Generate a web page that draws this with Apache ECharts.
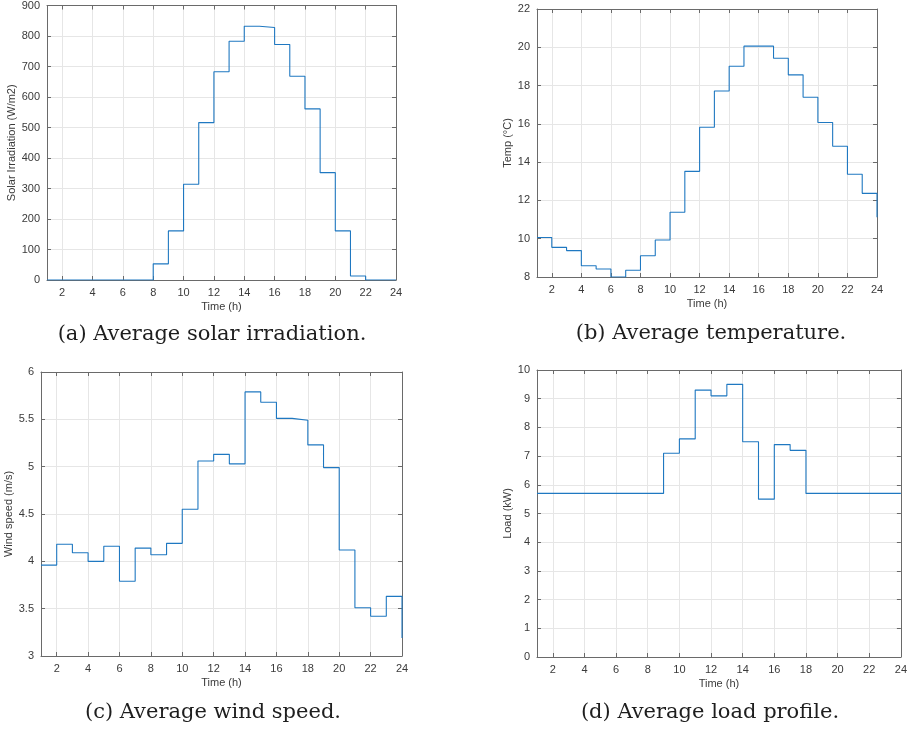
<!DOCTYPE html>
<html>
<head>
<meta charset="utf-8">
<title>Daily averages</title>
<script src="https://cdn.jsdelivr.net/npm/echarts@6/dist/echarts.min.js"></script>
<style>
  html, body { margin: 0; padding: 0; background: #ffffff; }
  #chart { width: 910px; height: 729px; }
</style>
</head>
<body>
<div id="chart"></div>
<script>
// Hour of day (1..24)
const hours = ['1','2','3','4','5','6','7','8','9','10','11','12',
               '13','14','15','16','17','18','19','20','21','22','23','24'];

// Average solar irradiation (W/m2)
const solarIrradiation = [0, 0, 0, 0, 0, 0, 0, 53, 161, 314, 516, 683,
                          783, 832, 828, 772, 668, 561, 352, 161, 13, 0, 0, 0];

// Average temperature (°C)
const temperature = [10.06, 9.55, 9.38, 8.59, 8.42, 8.0, 8.35, 9.11, 9.93, 11.38, 13.52, 15.82,
                     17.72, 19.01, 20.06, 20.06, 19.43, 18.56, 17.39, 16.07, 14.83, 13.37, 12.37, 11.12];

// Average wind speed (m/s)
const windSpeed = [3.96, 4.18, 4.09, 4.00, 4.16, 3.79, 4.14, 4.07, 4.19, 4.55, 5.06, 5.13,
                   5.03, 5.79, 5.68, 5.51, 5.49, 5.23, 4.99, 4.12, 3.51, 3.42, 3.63, 3.19];

// Average load profile (kW)
const load = [5.7, 5.7, 5.7, 5.7, 5.7, 5.7, 5.7, 5.7, 7.1, 7.6, 9.3, 9.1,
              9.5, 7.5, 5.5, 7.4, 7.2, 5.7, 5.7, 5.7, 5.7, 5.7, 5.7, 5.7];

// Hours that carry a tick label on the time axis
const xTickLabels = ['2','4','6','8','10','12','14','16','18','20','22','24'];

const captions = [
  '(a) Average solar irradiation.',
  '(b) Average temperature.',
  '(c) Average wind speed.',
  '(d) Average load profile.'
];

const panels = [
  { values: solarIrradiation, yName: 'Solar Irradiation (W/m2)', yMin: 0, yMax: 900, yStep: 100,
    grid: { left: 47, top: 5, width: 349, height: 275 }, yGap: 27, caption: { x: 212, y: 335 } },
  { values: temperature, yName: 'Temp (°C)', yMin: 8, yMax: 22, yStep: 2,
    grid: { left: 537, top: 9, width: 340, height: 268 }, yGap: 20, caption: { x: 711, y: 334 } },
  { values: windSpeed, yName: 'Wind speed (m/s)', yMin: 3, yMax: 6, yStep: 0.5,
    grid: { left: 41, top: 372, width: 361, height: 284 }, yGap: 25, caption: { x: 213, y: 713 } },
  { values: load, yName: 'Load (kW)', yMin: 0, yMax: 10, yStep: 1,
    grid: { left: 537, top: 370, width: 364, height: 287 }, yGap: 23, caption: { x: 710, y: 713 } }
];

const FONT = "'Liberation Sans', Arial, Helvetica, sans-serif";
const AXIS_COLOR = '#6a6a6a';
const TEXT_COLOR = '#3a3a3a';
const GRID_COLOR = '#e6e6e6';
const LINE_COLOR = '#1f78c1';

const isLabelled = (value) => xTickLabels.indexOf(String(value)) !== -1;
const tickFilter = (index, value) => isLabelled(value);

const grids = [], xAxes = [], yAxes = [], series = [], graphics = [];

panels.forEach((p, i) => {
  grids.push(Object.assign({ containLabel: false }, p.grid));

  // bottom time axis
  xAxes.push({
    type: 'category', gridIndex: i, data: hours, boundaryGap: false, position: 'bottom',
    name: 'Time (h)', nameLocation: 'middle', nameGap: 21,
    nameTextStyle: { fontFamily: FONT, fontSize: 11, color: TEXT_COLOR },
    axisLine: { onZero: false, lineStyle: { color: AXIS_COLOR, width: 1 } },
    axisTick: { inside: true, length: 4, interval: tickFilter, lineStyle: { color: AXIS_COLOR } },
    axisLabel: { interval: tickFilter, margin: 7, fontFamily: FONT, fontSize: 11, color: TEXT_COLOR },
    splitLine: { show: true, interval: tickFilter, lineStyle: { color: GRID_COLOR, width: 1 } }
  });
  // top frame edge
  xAxes.push({
    type: 'category', gridIndex: i, data: hours, boundaryGap: false, position: 'top',
    axisLine: { onZero: false, lineStyle: { color: AXIS_COLOR, width: 1 } },
    axisTick: { inside: true, length: 4, interval: tickFilter, lineStyle: { color: AXIS_COLOR } },
    axisLabel: { show: false }, splitLine: { show: false }
  });

  // left value axis
  yAxes.push({
    type: 'value', gridIndex: i, min: p.yMin, max: p.yMax, interval: p.yStep, position: 'left',
    name: p.yName, nameLocation: 'middle', nameGap: p.yGap, nameRotate: 90,
    nameTextStyle: { fontFamily: FONT, fontSize: 11, color: TEXT_COLOR },
    axisLine: { show: true, lineStyle: { color: AXIS_COLOR, width: 1 } },
    axisTick: { show: true, inside: true, length: 4, lineStyle: { color: AXIS_COLOR } },
    axisLabel: { margin: 7, fontFamily: FONT, fontSize: 11, color: TEXT_COLOR },
    splitLine: { show: true, lineStyle: { color: GRID_COLOR, width: 1 } }
  });
  // right frame edge
  yAxes.push({
    type: 'value', gridIndex: i, min: p.yMin, max: p.yMax, interval: p.yStep, position: 'right',
    axisLine: { show: true, lineStyle: { color: AXIS_COLOR, width: 1 } },
    axisTick: { show: true, inside: true, length: 4, lineStyle: { color: AXIS_COLOR } },
    axisLabel: { show: false }, splitLine: { show: false }
  });

  series.push({
    type: 'line', step: 'end', data: p.values,
    xAxisIndex: 2 * i, yAxisIndex: 2 * i,
    symbol: 'none', showSymbol: false, silent: true,
    lineStyle: { color: LINE_COLOR, width: 1.1 }
  });

  graphics.push({
    type: 'text', x: p.caption.x, y: p.caption.y,
    style: {
      text: captions[i], fill: '#1e1e1e',
      font: "21px 'DejaVu Serif', 'Liberation Serif', serif",
      textAlign: 'center', textVerticalAlign: 'middle'
    }
  });
});

const chart = echarts.init(document.getElementById('chart'), null, { renderer: 'canvas' });
chart.setOption({
  animation: false,
  backgroundColor: '#ffffff',
  grid: grids,
  xAxis: xAxes,
  yAxis: yAxes,
  series: series,
  graphic: graphics
});
</script>
</body>
</html>
